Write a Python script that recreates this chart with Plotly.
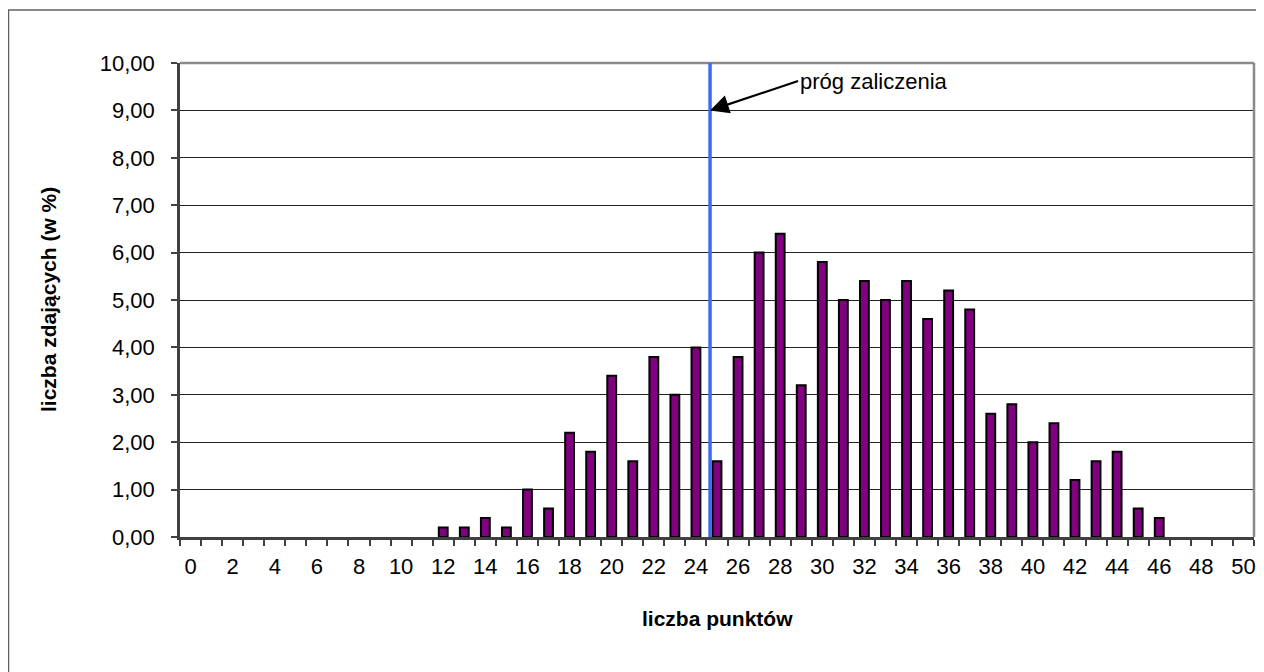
import plotly.graph_objects as go

# punkty (0-50) i odsetek zdających
points = list(range(0, 51))
percent = [0, 0, 0, 0, 0, 0, 0, 0, 0, 0, 0, 0,
           0.2, 0.2, 0.4, 0.2, 1.0, 0.6, 2.2, 1.8, 3.4, 1.6, 3.8, 3.0, 4.0,
           1.6, 3.8, 6.0, 6.4, 3.2, 5.8, 5.0, 5.4, 5.0, 5.4, 4.6, 5.2, 4.8,
           2.6, 2.8, 2.0, 2.4, 1.2, 1.6, 1.8, 0.6, 0.4,
           0, 0, 0, 0]
x_tick_vals = list(range(0, 51, 2))
y_tick_vals = list(range(0, 11))
threshold = 24.67
threshold_label = "próg zaliczenia"
label_pos = (28.85, 9.62)

# the page body has an 8px margin, so the figure is 8px smaller than the window
OFF = 8
W, H = 1264 - OFF, 672 - OFF
L, R, T, B = 172, 10, 55, 135
pw, ph = W - L - R, H - T - B


def px(x):
    return (x - OFF - L) / pw


def py(y):
    return (H - B - (y - OFF)) / ph


FONT = "Liberation Sans, Arial, sans-serif"

fig = go.Figure()
fig.add_trace(go.Bar(
    x=points, y=[v if v > 0 else None for v in percent], width=0.42,
    marker=dict(color="#800080", line=dict(color="black", width=2)),
    showlegend=False, hoverinfo="x+y",
))

fig.update_layout(
    width=W, height=H,
    margin=dict(l=L, r=R, t=T, b=B, autoexpand=False),
    paper_bgcolor="white", plot_bgcolor="white",
    font=dict(family=FONT, size=22, color="black"),
    separators=", ",
    xaxis=dict(
        range=[-0.5, 50.5], tickmode="array", tickvals=x_tick_vals,
        ticks="", showgrid=False, zeroline=False,
        showline=True, linecolor="#404040", linewidth=2.5,
        ticklabelstandoff=8,
        minor=dict(tick0=-0.5, dtick=1, ticks="outside", ticklen=6,
                   tickcolor="#404040", tickwidth=1.5, showgrid=False),
    ),
    yaxis=dict(
        range=[0, 10], tickmode="array", tickvals=y_tick_vals,
        tickformat=".2f", ticks="outside", ticklen=6,
        tickcolor="#404040", tickwidth=1.5,
        showgrid=True, gridcolor="#222222", gridwidth=1,
        zeroline=False, showline=True, linecolor="#404040", linewidth=2.5,
        ticklabelstandoff=12,
    ),
)

# ramka wykresu (góra, prawo)
fig.add_shape(type="line", xref="paper", yref="paper", x0=0, x1=1, y0=1, y1=1,
              line=dict(color="#8a8a8a", width=2.5))
fig.add_shape(type="line", xref="paper", yref="paper", x0=1, x1=1, y0=0, y1=1,
              line=dict(color="#8a8a8a", width=2.5))
# zewnętrzna ramka
fig.add_shape(type="rect", xref="paper", yref="paper",
              x0=px(8.6), x1=px(1300), y0=py(700), y1=py(10),
              line=dict(color="#606060", width=1.3))

# próg zaliczenia
fig.add_shape(type="line", xref="x", yref="y", x0=threshold, x1=threshold, y0=0, y1=10,
              line=dict(color="#3c6cf0", width=3.5))
fig.add_annotation(
    x=threshold, y=9, ax=label_pos[0], ay=label_pos[1], axref="x", ayref="y",
    text=threshold_label, xanchor="left", yanchor="middle", showarrow=True,
    arrowhead=2, arrowsize=1.7, arrowwidth=2.2, arrowcolor="black",
    font=dict(size=22), standoff=0,
)

# tytuły osi
fig.add_annotation(x=0.5, y=0, xref="paper", yref="paper", yshift=-81,
                   text="<b>liczba punktów</b>", showarrow=False,
                   xanchor="center", yanchor="middle", font=dict(size=21))
fig.add_annotation(x=0, y=0.5, xref="paper", yref="paper", xshift=-132,
                   text="<b>liczba zdających (w %)</b>", showarrow=False, textangle=-90,
                   xanchor="center", yanchor="middle", font=dict(size=21))

fig.write_html("out.html")
